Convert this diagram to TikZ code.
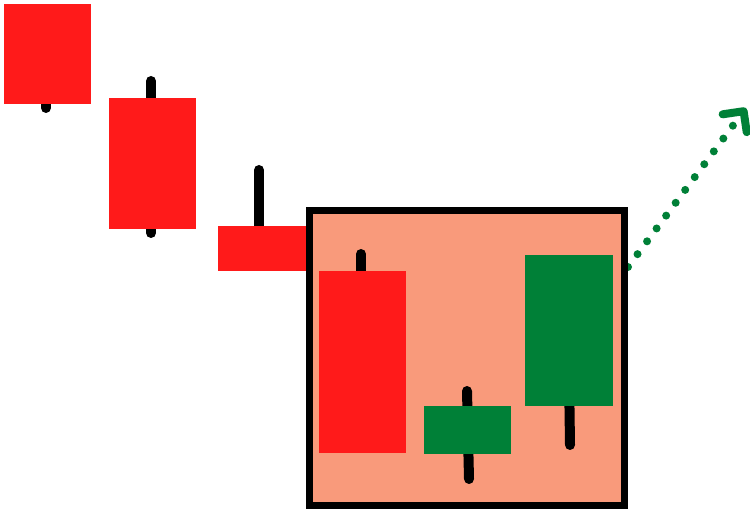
\documentclass[tikz,border=0pt]{standalone}
\usepackage{tikz}
\usetikzlibrary{arrows.meta}
\definecolor{bear}{RGB}{255,26,26}
\definecolor{bull}{RGB}{0,128,55}
\definecolor{zone}{RGB}{249,154,123}
\begin{document}
\begin{tikzpicture}[
    x=0.02cm, y=-0.02cm,
    wick/.style={line width=0.2cm,line cap=round,black},
    bear body/.style={fill=bear},
    bull body/.style={fill=bull},
    pattern box/.style={draw,line width=0.14cm,fill=zone},
    trend/.style={bull,line width=0.16cm,line cap=round,dash pattern=on 0pt off 0.32cm,
        -{Straight Barb[length=0.3cm,width=0.6cm,round]}}
    ]
    \useasboundingbox (0,0) rectangle (750,509);
    % trend arrow
    \coordinate (trend start) at (628,267);
    \coordinate (trend end) at (746,108);
    \draw [trend] (trend start) -- (trend end);
    % pattern box
    \draw [pattern box] (309,211) rectangle (624,505);
    % wicks
    % 1
    \draw [wick] (46,95) -- (46,108);
    % 2
    \draw [wick] (151,81) -- (151,233);
    % 3
    \draw [wick] (259,170) -- (259,240);
    % 4
    \draw [wick] (361,254) -- (361,300);
    % 5
    \draw [wick] (467,391) -- (469,479);
    % 6
    \draw [wick] (568,300) -- (570,445);
    % bodies
    % 1
    \fill [bear body] (4,4) rectangle (91,104);
    % 2
    \fill [bear body] (109,98) rectangle (196,229);
    % 3
    \fill [bear body] (218,226) rectangle (306,271);
    % 4
    \fill [bear body] (319,271) rectangle (406,453);
    % 5
    \fill [bull body] (424,406) rectangle (511,454);
    % 6
    \fill [bull body] (525,255) rectangle (613,406);
\end{tikzpicture}
\end{document}
